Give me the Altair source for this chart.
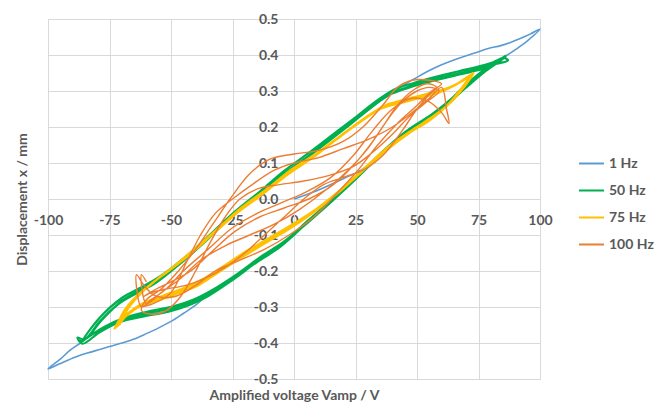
import altair as alt
import pandas as pd

series_names = ["1 Hz", "50 Hz", "75 Hz", "100 Hz"]
series_colors = ["#5B9BD5", "#00B050", "#FFC000", "#ED7D31"]
series_widths = [1.6, 2.2, 2.2, 1.4]

x_ticks = [-100, -75, -50, -25, 0, 25, 50, 75, 100]
y_ticks = [-0.5, -0.4, -0.3, -0.2, -0.1, 0, 0.1, 0.2, 0.3, 0.4, 0.5]

# ---- 1 Hz (blue) ----
hz1_x = [0, 5, 10, 15, 21, 26, 31, 36, 45, 55, 63, 70, 78, 85, 90, 95, 100,
         96, 92, 88, 84, 79, 75, 70, 65, 60, 55, 50, 45, 40, 32, 24, 15, 5, -5, -15,
         -25, -35, -45, -55, -63, -70, -78, -85, -91, -95, -100,
         -96, -92, -88, -84, -79, -75, -70, -65, -60, -55, -50, -45, -40, -34, -24, -14,
         -5, 5, 15, 25, 35]
hz1_y = [0, 0.012, 0.025, 0.04, 0.06, 0.075, 0.098, 0.128, 0.185, 0.23, 0.272, 0.318, 0.362,
         0.392, 0.415, 0.44, 0.472,
         0.458, 0.446, 0.435, 0.426, 0.418, 0.409, 0.398, 0.386, 0.373, 0.357, 0.338, 0.318,
         0.295, 0.258, 0.215, 0.168, 0.115, 0.065, 0.008,
         -0.045, -0.11, -0.172, -0.225, -0.255, -0.283, -0.335, -0.39, -0.42, -0.445, -0.472,
         -0.46, -0.448, -0.437, -0.428, -0.418, -0.41, -0.4, -0.389, -0.374, -0.358, -0.34,
         -0.318, -0.295, -0.26, -0.215, -0.165,
         -0.125, -0.065, -0.005, 0.058, 0.125]

# ---- 50 Hz (green), three cycles ----
hz50_x = [-85, -78, -70, -60, -50, -42, -34, -24, -14, -5, 5, 15, 25, 35, 45, 55, 63, 70, 78, 85,
          87, 84, 80, 74, 66, 57, 48, 40, 32, 24, 15, 5, -5, -15, -25, -35, -45, -55, -63, -70, -78, -85,
          -88, -86, -79, -71, -61, -51, -43, -35, -25, -15, -6, 4, 14, 24, 34, 44, 54, 62, 70, 78, 86,
          81, 75, 67, 58, 49, 41, 33, 25, 16, 6, -4, -14, -24, -34, -44, -54, -62, -70, -79, -86,
          -84, -77, -69, -59, -49, -41, -33, -23, -13, -4, 6, 16, 26, 36, 46, 56, 64, 71, 79, 84,
          86, 83, 79, 73, 65, 56, 47, 39, 31, 23, 14, 4, -6, -16, -26, -36, -46, -56, -64, -71, -79, -84, -87]
hz50_y = [-0.39, -0.36, -0.335, -0.318, -0.305, -0.288, -0.26, -0.215, -0.165, -0.125, -0.065, -0.005,
          0.058, 0.125, 0.185, 0.23, 0.272, 0.318, 0.362, 0.392,
          0.385, 0.378, 0.372, 0.36, 0.347, 0.332, 0.315, 0.295, 0.258, 0.215, 0.168, 0.115, 0.065,
          0.008, -0.045, -0.11, -0.172, -0.225, -0.255, -0.283, -0.335, -0.39,
          -0.385, -0.402, -0.37, -0.342, -0.326, -0.313, -0.296, -0.27, -0.225, -0.175, -0.135,
          -0.075, -0.015, 0.048, 0.115, 0.178, 0.222, 0.262, 0.31, 0.356, 0.395,
          0.38, 0.368, 0.355, 0.34, 0.323, 0.305, 0.27, 0.227, 0.18, 0.128, 0.078, 0.02, -0.035,
          -0.098, -0.16, -0.213, -0.245, -0.275, -0.33, -0.395,
          -0.385, -0.355, -0.33, -0.312, -0.298, -0.28, -0.252, -0.208, -0.158, -0.118, -0.058, 0.002,
          0.065, 0.132, 0.19, 0.235, 0.278, 0.322, 0.365, 0.388,
          0.398, 0.382, 0.366, 0.355, 0.342, 0.327, 0.31, 0.29, 0.252, 0.208, 0.16, 0.108, 0.058,
          0.0, -0.052, -0.118, -0.178, -0.232, -0.262, -0.29, -0.34, -0.385, -0.395]

# ---- 75 Hz (yellow), three cycles ----
hz75_x = [-73, -68, -62, -54, -46, -38, -30, -22, -12, -2, 8, 18, 28, 38, 48, 56, 63, 68, 72,
          67, 60, 52, 44, 36, 28, 18, 8, -2, -12, -22, -32, -42, -50, -57, -63, -68, -73,
          -69, -63, -55, -47, -39, -31, -23, -13, -3, 7, 17, 27, 37, 47, 55, 62, 67, 71,
          66, 59, 51, 43, 35, 27, 17, 7, -3, -13, -23, -33, -43, -51, -58, -64, -69, -72,
          -67, -61, -53, -45, -37, -29, -21, -11, -1, 9, 19, 29, 39, 49, 57, 64, 69, 73,
          68, 61, 53, 45, 37, 29, 19, 9, -1, -11, -21, -31, -41, -49, -56, -62, -67, -71]
hz75_y = [-0.36, -0.32, -0.295, -0.275, -0.255, -0.23, -0.195, -0.16, -0.12, -0.08, -0.035, 0.02,
          0.08, 0.14, 0.19, 0.225, 0.265, 0.305, 0.345,
          0.322, 0.3, 0.285, 0.27, 0.255, 0.22, 0.17, 0.12, 0.075, 0.02, -0.03, -0.09, -0.15, -0.195,
          -0.23, -0.265, -0.305, -0.36,
          -0.33, -0.3, -0.282, -0.262, -0.24, -0.205, -0.17, -0.128, -0.088, -0.042, 0.012, 0.072,
          0.132, 0.184, 0.218, 0.258, 0.298, 0.34,
          0.318, 0.296, 0.28, 0.266, 0.25, 0.214, 0.164, 0.112, 0.066, 0.012, -0.038, -0.098, -0.158,
          -0.2, -0.236, -0.27, -0.31, -0.355,
          -0.315, -0.288, -0.268, -0.248, -0.222, -0.188, -0.152, -0.112, -0.072, -0.028, 0.026,
          0.088, 0.148, 0.196, 0.232, 0.27, 0.31, 0.35,
          0.326, 0.305, 0.29, 0.276, 0.26, 0.226, 0.176, 0.126, 0.082, 0.028, -0.022, -0.082,
          -0.142, -0.188, -0.225, -0.26, -0.3, -0.35]

# ---- 100 Hz (orange), four cycles with ringing ----
hz100_x = [-62, -57, -50, -44, -38, -32, -25, -17, -8, 0, 10, 20, 30, 40, 48, 55, 60,
           62, 63, 60, 55, 48, 40, 32, 24, 15, 5, -5, -15, -25, -35, -45, -52, -58, -62,
           -64, -61, -56, -48, -40, -32, -22, -12, -2, 8, 18, 26, 34, 42, 50, 56, 60,
           55, 48, 42, 36, 28, 20, 10, 0, -10, -18, -26, -33, -40, -47, -54, -60, -62,
           -58, -52, -46, -40, -34, -28, -22, -14, -6, 4, 14, 24, 32, 40, 47, 54, 59,
           55, 50, 44, 38, 32, 25, 16, 6, -4, -14, -24, -34, -42, -50, -56, -61,
           -58, -52, -44, -36, -28, -20, -12, -4, 4, 12, 20, 28, 36, 44, 50, 55, 58,
           54, 48, 42, 36, 30, 22, 12, 2, -8, -18, -28, -38, -46, -54, -60, -62, -60]
hz100_y = [-0.3, -0.29, -0.26, -0.18, -0.1, -0.04, 0.0, 0.04, 0.08, 0.1, 0.115, 0.14, 0.165, 0.2,
           0.24, 0.28, 0.31,
           0.25, 0.21, 0.24, 0.27, 0.28, 0.25, 0.19, 0.12, 0.06, 0.02, -0.01, -0.04, -0.08, -0.14,
           -0.2, -0.25, -0.28, -0.3,
           -0.21, -0.24, -0.27, -0.27, -0.24, -0.2, -0.17, -0.14, -0.1, -0.05, 0.02, 0.08, 0.15,
           0.21, 0.26, 0.3, 0.32,
           0.33, 0.33, 0.31, 0.26, 0.2, 0.16, 0.135, 0.125, 0.11, 0.07, 0.0, -0.07, -0.14, -0.2,
           -0.25, -0.28, -0.31,
           -0.32, -0.31, -0.27, -0.2, -0.12, -0.05, 0.0, 0.03, 0.04, 0.05, 0.065, 0.09, 0.13, 0.18,
           0.23, 0.27, 0.3,
           0.31, 0.3, 0.27, 0.22, 0.16, 0.1, 0.04, 0.0, -0.025, -0.05, -0.09, -0.15, -0.2, -0.23,
           -0.25, -0.27,
           -0.26, -0.25, -0.24, -0.22, -0.19, -0.15, -0.1, -0.05, 0.0, 0.04, 0.06, 0.08, 0.12, 0.19,
           0.25, 0.29, 0.31,
           0.32, 0.3, 0.26, 0.2, 0.14, 0.08, 0.02, -0.03, -0.07, -0.1, -0.13, -0.17, -0.22, -0.26,
           -0.29, -0.21, -0.23]

all_x = [hz1_x, hz50_x, hz75_x, hz100_x]
all_y = [hz1_y, hz50_y, hz75_y, hz100_y]

font = "Lato"
label_color = "#595959"
grid_color = "#D9D9D9"

x_enc = alt.X(
    "x:Q",
    scale=alt.Scale(domain=[-100, 100], nice=False, zero=False),
    axis=alt.Axis(
        values=x_ticks, offset=-180, ticks=False, tickSize=0, labelPadding=14,
        labelFlush=False, labelOverlap=False, grid=True, gridColor=grid_color,
        domainColor=grid_color, labelFont=font, labelFontSize=14, labelFontWeight="bold",
        labelColor=label_color, labelExpr="replace(datum.label, '\u2212', '-')",
        title="Amplified voltage Vamp / V", titleFont=font, titleFontSize=14,
        titleFontWeight="bold", titleColor=label_color, titleY=196, titleBaseline="middle",
    ),
)
y_enc = alt.Y(
    "y:Q",
    scale=alt.Scale(domain=[-0.5, 0.5], nice=False, zero=False),
    axis=alt.Axis(
        values=y_ticks, offset=-246, ticks=False, tickSize=0, labelPadding=16,
        labelFlush=False, labelOverlap=False, grid=True, gridColor=grid_color,
        domainColor=grid_color, labelFont=font, labelFontSize=14, labelFontWeight="bold",
        labelColor=label_color, labelExpr="replace(datum.label, '\u2212', '-')",
        title="Displacement x / mm", titleFont=font, titleFontSize=14,
        titleFontWeight="bold", titleColor=label_color, titleX=-272, titleY=180,
        titleAngle=270, titleAlign="center", titleBaseline="middle",
    ),
)
color_enc = alt.Color(
    "series:N",
    scale=alt.Scale(domain=series_names, range=series_colors),
    legend=alt.Legend(
        title=None, orient="none", legendX=530, legendY=131, symbolType="stroke",
        symbolSize=625, symbolStrokeWidth=2, labelFont=font, labelFontSize=14,
        labelFontWeight="bold", labelColor=label_color, labelOffset=4, rowPadding=6,
        padding=0, labelLimit=0,
    ),
)

layers = []
for name, xs, ys, w in zip(series_names, all_x, all_y, series_widths):
    df = pd.DataFrame({"x": xs, "y": ys, "i": list(range(len(xs))), "series": name})
    layers.append(
        alt.Chart(df)
        .mark_line(interpolate="catmull-rom", strokeWidth=w)
        .encode(x=x_enc, y=y_enc, color=color_enc, order=alt.Order("i:Q"))
    )

chart = (
    alt.layer(*layers)
    .properties(
        width=492, height=360,
        autosize=alt.AutoSizeParams(type="none"),
        padding={"left": 40, "top": 11, "right": 115, "bottom": 24},
    )
    .configure_view(stroke=None)
    .configure(background="white")
)

chart.save("out.html", embed_options={"renderer": "svg", "actions": False})
